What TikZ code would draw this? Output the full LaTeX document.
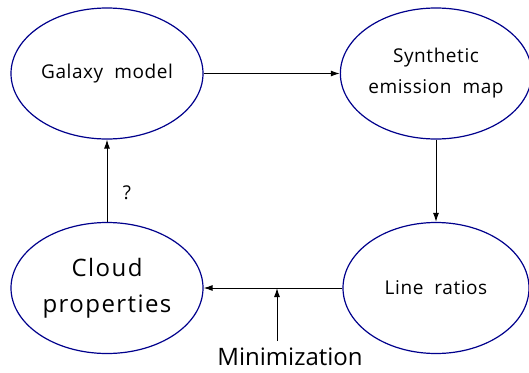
\documentclass[tikz,border=0pt]{standalone}
\usepackage{fontspec}
\setmainfont{Open Sans}
\usetikzlibrary{arrows.meta,shapes.geometric}
\definecolor{ellblue}{RGB}{0,0,140}
\begin{document}
\begin{tikzpicture}[x=1pt,y=-1pt,
  ell/.style={draw=ellblue,line width=1.2pt,ellipse,minimum width=#1,minimum height=131pt,inner sep=0pt,align=center},
  ell/.default={192pt},
  conn/.style={draw=black,line width=1pt,-{Latex[length=9pt,width=6pt]}},
  lbl/.style={font=\fontsize{19}{31}\selectfont\addfontfeatures{LetterSpace=3}},
  big/.style={font=\fontsize{24}{36}\selectfont\addfontfeatures{LetterSpace=6}}]
\useasboundingbox (0,0) rectangle (529,372);
\node[ell,lbl] (galaxy) at (107,73.5) {Galaxy\ \ model};
\node[ell={186pt},lbl] (synth) at (436,73.5) {Synthetic\\emission\ \ map};
\node[ell,big] (cloud) at (107,288) {Cloud\\properties};
\node[ell={186pt},lbl] (ratios) at (436,288) {Line\ \ ratios};
\node[font=\fontsize{24}{30}\selectfont,inner sep=0pt] (mini) at (290,357) {Minimization};
\coordinate (join) at (277,288);
\coordinate (minitop) at (277,341);
\path[conn] (galaxy) -- (synth);
\path[conn] (synth) -- (ratios);
\path[conn] (ratios) -- (cloud);
\path[conn] (cloud) -- node[lbl,right=12pt,pos=0.35]{?} (galaxy);
\path[conn] (minitop) -- (join);
\end{tikzpicture}
\end{document}
